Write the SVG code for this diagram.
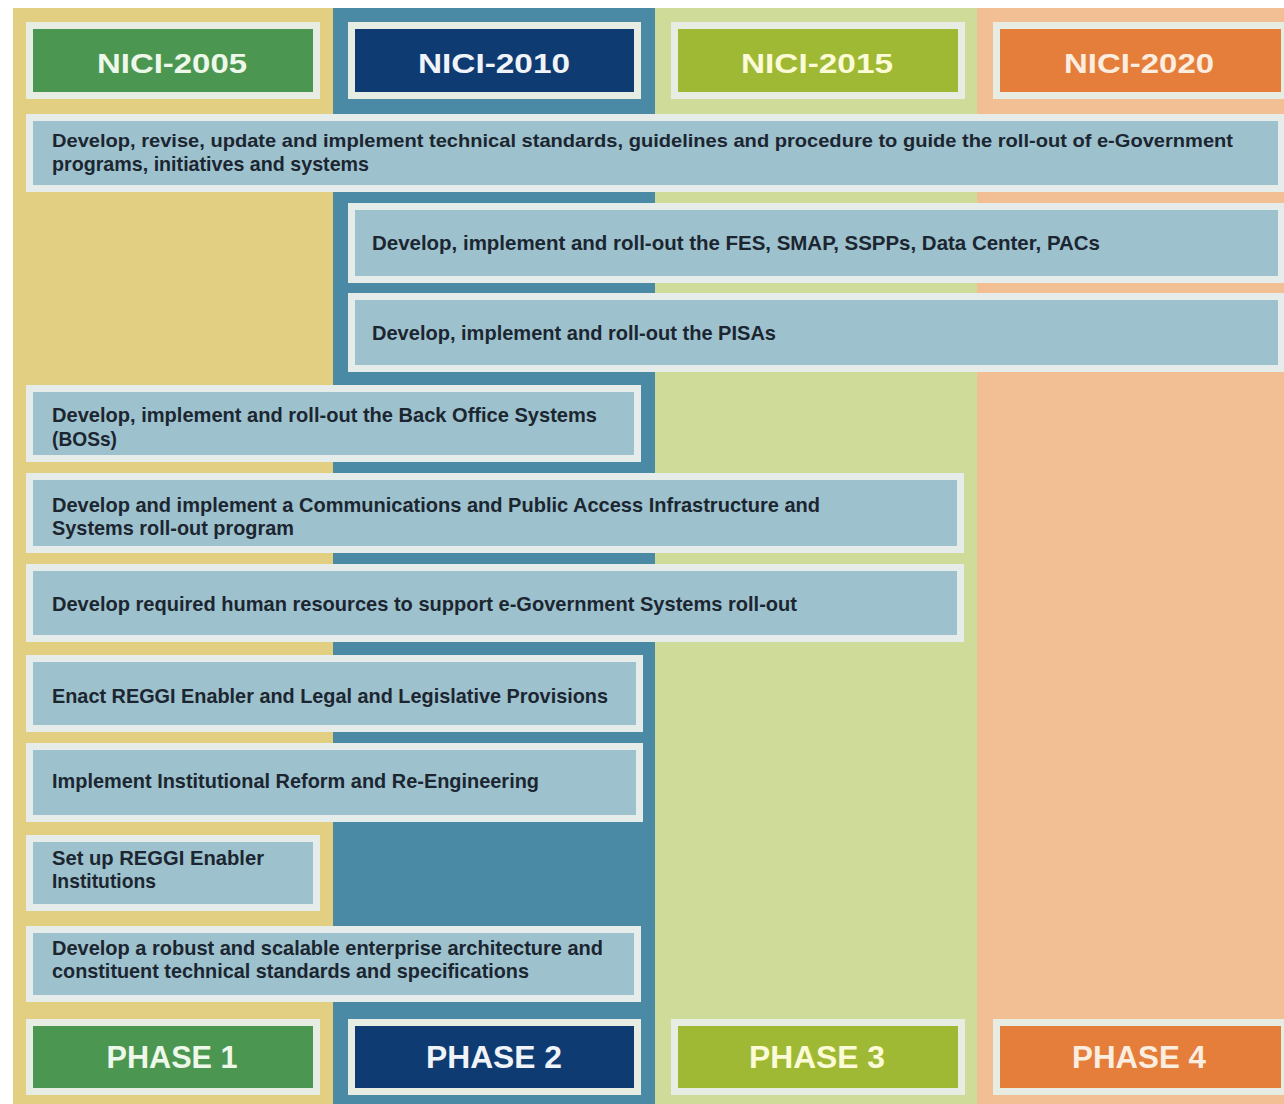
<svg xmlns="http://www.w3.org/2000/svg" width="1284" height="1104" viewBox="0 0 1284 1104">
<style>
.bar{fill:#9ec1ce;stroke:#e6ecea;stroke-width:7}
.hdr{stroke:#e8ede4;stroke-width:7}
.t{font-family:"Liberation Sans",Arial,sans-serif;font-weight:bold;font-size:21px;fill:#1b2630}
.h{font-family:"Liberation Sans",Arial,sans-serif;font-weight:bold;font-size:28px;text-anchor:middle}
.p{font-family:"Liberation Sans",Arial,sans-serif;font-weight:bold;font-size:31px;text-anchor:middle}
</style>
<rect width="1284" height="1104" fill="#ffffff"/>
<g id="columns">
<rect x="13" y="8" width="320" height="1096" fill="#e3cf82"/>
<rect x="333" y="8" width="322" height="1096" fill="#4b8aa4"/>
<rect x="655" y="8" width="322" height="1096" fill="#cfdb98"/>
<rect x="977" y="8" width="307" height="1096" fill="#f2be93"/>
</g>
<g id="header-2005"><rect class="hdr" x="29.5" y="25.5" width="287" height="70" fill="#4b9650"/><text class="h" x="172" y="73" fill="#eef8ea" textLength="150" lengthAdjust="spacingAndGlyphs">NICI-2005</text></g>
<g id="header-2010"><rect class="hdr" x="351.5" y="25.5" width="286" height="70" fill="#0f3b73"/><text class="h" x="494" y="73" fill="#f0f4f8" textLength="152" lengthAdjust="spacingAndGlyphs">NICI-2010</text></g>
<g id="header-2015"><rect class="hdr" x="674.5" y="25.5" width="287" height="70" fill="#a0b935"/><text class="h" x="817" y="73" fill="#fbfbd8" textLength="152" lengthAdjust="spacingAndGlyphs">NICI-2015</text></g>
<g id="header-2020"><rect class="hdr" x="996.5" y="25.5" width="288" height="70" fill="#e57e3b"/><text class="h" x="1139" y="73" fill="#fbeee0" textLength="150" lengthAdjust="spacingAndGlyphs">NICI-2020</text></g>

<g id="bar-standards"><rect class="bar" x="29.5" y="117.5" width="1252" height="71"/>
<text class="t" x="52" y="147" style="font-size:19px" textLength="1181" lengthAdjust="spacingAndGlyphs">Develop, revise, update and implement technical standards, guidelines and procedure to guide the roll-out of e-Government</text>
<text class="t" x="52" y="171" textLength="317" lengthAdjust="spacingAndGlyphs">programs, initiatives and systems</text></g>
<g id="bar-fes"><rect class="bar" x="351.5" y="206.5" width="930" height="73"/>
<text class="t" x="372" y="250" textLength="728" lengthAdjust="spacingAndGlyphs">Develop, implement and roll-out the FES, SMAP, SSPPs, Data Center, PACs</text></g>
<g id="bar-pisas"><rect class="bar" x="351.5" y="296.5" width="930" height="72"/>
<text class="t" x="372" y="340" textLength="404" lengthAdjust="spacingAndGlyphs">Develop, implement and roll-out the PISAs</text></g>
<g id="bar-bos"><rect class="bar" x="29.5" y="388.5" width="608" height="70"/>
<text class="t" x="52" y="422" textLength="545" lengthAdjust="spacingAndGlyphs">Develop, implement and roll-out the Back Office Systems</text>
<text class="t" x="52" y="446" textLength="65" lengthAdjust="spacingAndGlyphs">(BOSs)</text></g>
<g id="bar-comms"><rect class="bar" x="29.5" y="476.5" width="931" height="73"/>
<text class="t" x="52" y="512" textLength="768" lengthAdjust="spacingAndGlyphs">Develop and implement a Communications and Public Access Infrastructure and</text>
<text class="t" x="52" y="535" textLength="242" lengthAdjust="spacingAndGlyphs">Systems roll-out program</text></g>
<g id="bar-hr"><rect class="bar" x="29.5" y="567.5" width="931" height="71"/>
<text class="t" x="52" y="611" textLength="745" lengthAdjust="spacingAndGlyphs">Develop required human resources to support e-Government Systems roll-out</text></g>
<g id="bar-reggi-enabler"><rect class="bar" x="29.5" y="658.5" width="610" height="70"/>
<text class="t" x="52" y="703" textLength="556" lengthAdjust="spacingAndGlyphs">Enact REGGI Enabler and Legal and Legislative Provisions</text></g>
<g id="bar-reform"><rect class="bar" x="29.5" y="746.5" width="610" height="72"/>
<text class="t" x="52" y="788" textLength="487" lengthAdjust="spacingAndGlyphs">Implement Institutional Reform and Re-Engineering</text></g>
<g id="bar-institutions"><rect class="bar" x="29.5" y="838.5" width="287" height="69"/>
<text class="t" x="52" y="865" textLength="212" lengthAdjust="spacingAndGlyphs">Set up REGGI Enabler</text>
<text class="t" x="52" y="888" textLength="104" lengthAdjust="spacingAndGlyphs">Institutions</text></g>
<g id="bar-architecture"><rect class="bar" x="29.5" y="929.5" width="608" height="69"/>
<text class="t" x="52" y="955" textLength="551" lengthAdjust="spacingAndGlyphs">Develop a robust and scalable enterprise architecture and</text>
<text class="t" x="52" y="978" textLength="477" lengthAdjust="spacingAndGlyphs">constituent technical standards and specifications</text></g>

<g id="phase-1"><rect class="hdr" x="29.5" y="1022.5" width="287" height="69" fill="#4b9650"/><text class="p" x="172" y="1068" fill="#eef8ea" textLength="131" lengthAdjust="spacingAndGlyphs">PHASE 1</text></g>
<g id="phase-2"><rect class="hdr" x="351.5" y="1022.5" width="286" height="69" fill="#0f3b73"/><text class="p" x="494" y="1068" fill="#f0f4f8" textLength="136" lengthAdjust="spacingAndGlyphs">PHASE 2</text></g>
<g id="phase-3"><rect class="hdr" x="674.5" y="1022.5" width="287" height="69" fill="#a0b935"/><text class="p" x="817" y="1068" fill="#fbfbd8" textLength="136" lengthAdjust="spacingAndGlyphs">PHASE 3</text></g>
<g id="phase-4"><rect class="hdr" x="996.5" y="1022.5" width="288" height="69" fill="#e57e3b"/><text class="p" x="1139" y="1068" fill="#fbeee0" textLength="134" lengthAdjust="spacingAndGlyphs">PHASE 4</text></g>
</svg>
